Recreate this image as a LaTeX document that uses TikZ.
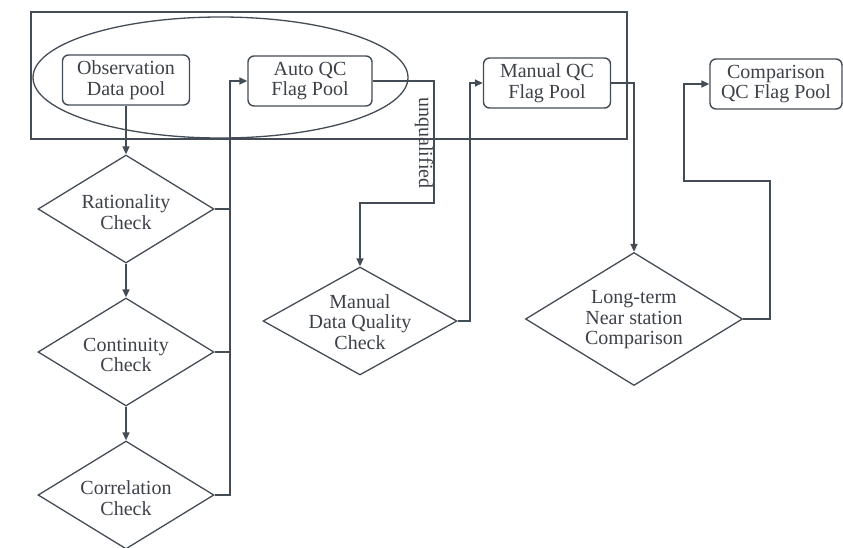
\documentclass[tikz,border=0pt]{standalone}
\usepackage{fontspec}
\setmainfont{Liberation Serif}
\usetikzlibrary{shapes.geometric,arrows.meta}
\definecolor{ln}{RGB}{68,76,86}
\definecolor{tx}{RGB}{62,66,72}
\begin{document}
\begin{tikzpicture}[x=1pt,y=-1pt,
  every node/.style={text=tx,font=\fontsize{20}{20.5}\selectfont,align=center},
  pool/.style={draw=ln,line width=1.4pt,rounded corners=6pt,fill=white,inner sep=0pt,minimum height=50pt},
  check/.style={draw=ln,line width=1.3pt,shape=diamond,inner sep=0pt,minimum width=176pt,minimum height=108pt},
  conn/.style={draw=ln,line width=1.5pt},
  arr/.style={conn,-{Triangle[length=8pt,width=7pt]}}]
\useasboundingbox (0,0) rectangle (843,547);
\fill[white] (0,0) rectangle (843,547);
% frame and ellipse
\node[draw=ln,line width=1.3pt,minimum width=596pt,minimum height=127pt,inner sep=0pt] (frame) at (329,75.5) {};
\node[draw=ln,line width=1.3pt,shape=ellipse,minimum width=375pt,minimum height=121pt,inner sep=0pt] (ell) at (220.5,77.5) {};
% pools
\node[pool,minimum width=127pt] (obs) at (126,80) {Observation\\Data pool};
\node[pool,minimum width=124pt] (auto) at (310,81) {Auto QC\\Flag Pool};
\node[pool,minimum width=127pt] (manual) at (547,83) {Manual QC\\Flag Pool};
\node[pool,minimum width=132pt] (comp) at (776,84) {Comparison\\QC Flag Pool};
% checks
\node[check] (rat) at (126,209) {};
\node[check] (cont) at (126,352) {};
\node[check] (corr) at (126,495) {};
\node[check,minimum width=194pt] (mdqc) at (360,321) {};
\node[check,minimum width=217pt,minimum height=133pt] (lt) at (634,319) {};
\node (ratt) at ([yshift=-3pt]rat.center) {Rationality\\Check};
\node (contt) at ([yshift=-3pt]cont.center) {Continuity\\Check};
\node (corrt) at ([yshift=-3pt]corr.center) {Correlation\\Check};
\node (mdqct) at ([yshift=-1pt]mdqc.center) {Manual\\Data Quality\\Check};
\node (ltt) at ([yshift=-1pt]lt.center) {Long-term\\Near station\\Comparison};
% coordinates
\coordinate (bus) at (230,81);
\coordinate (u1) at (434,203);
\coordinate (m1) at (470,321);
\coordinate (c1) at (770,181);
\coordinate (c2) at (684,181);
% connectors
\draw[arr] (obs.south) -- (rat.north);
\draw[arr] (rat.south) -- (cont.north);
\draw[arr] (cont.south) -- (corr.north);
\draw[conn] (rat.east) -- (rat.east -| bus);
\draw[conn] (cont.east) -- (cont.east -| bus);
\draw[arr] (corr.east) -| (bus) -- (auto.west);
\draw[arr] (auto.east) -| (u1) -| (mdqc.north);
\node[rotate=-90,inner sep=0pt] (unq) at (424,143) {unqualified};
\draw[arr] (mdqc.east) -- (m1) |- (manual.west);
\draw[arr] (manual.east) -| (lt.north);
\draw[arr] (lt.east) -| (c1) -- (c2) |- (comp.west);
\end{tikzpicture}
\end{document}
